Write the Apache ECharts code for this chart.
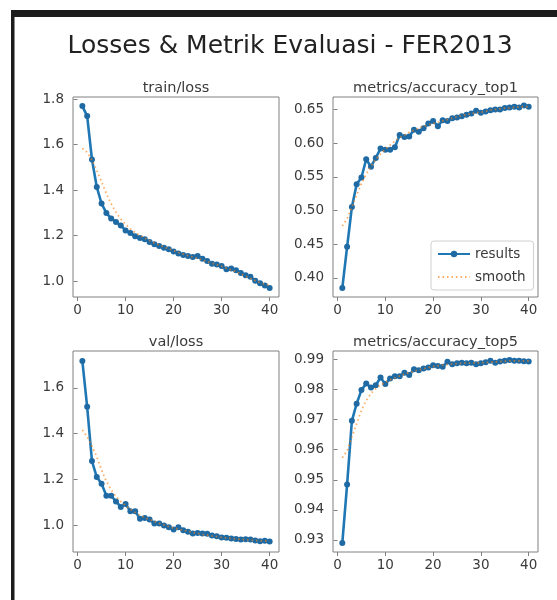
<!DOCTYPE html>
<html><head><meta charset="utf-8">
<script src="https://cdn.jsdelivr.net/npm/echarts@6/dist/echarts.min.js"></script>
<style>html,body{margin:0;padding:0;background:#fff}#c{width:557px;height:600px}</style>
</head><body><div id="c"></div>
<script>
const epochs = [1,2,3,4,5,6,7,8,9,10,11,12,13,14,15,16,17,18,19,20,21,22,23,24,25,26,27,28,29,30,31,32,33,34,35,36,37,38,39,40];
const trainLoss = [1.770,1.726,1.535,1.414,1.341,1.300,1.275,1.260,1.245,1.223,1.212,1.197,1.190,1.184,1.172,1.162,1.154,1.147,1.140,1.130,1.121,1.115,1.110,1.106,1.110,1.098,1.088,1.076,1.073,1.066,1.052,1.055,1.048,1.036,1.026,1.019,1.001,0.990,0.981,0.970];
const trainLossSmooth = [1.584,1.567,1.533,1.487,1.437,1.385,1.340,1.303,1.273,1.249,1.230,1.214,1.200,1.189,1.178,1.168,1.159,1.150,1.142,1.134,1.126,1.119,1.112,1.106,1.100,1.093,1.086,1.079,1.072,1.065,1.057,1.049,1.041,1.032,1.022,1.012,1.002,0.993,0.986,0.982];
const top1 = [0.385,0.446,0.505,0.539,0.549,0.576,0.565,0.578,0.592,0.590,0.590,0.594,0.612,0.609,0.610,0.620,0.617,0.622,0.629,0.633,0.625,0.634,0.633,0.637,0.638,0.640,0.642,0.644,0.648,0.645,0.647,0.649,0.650,0.650,0.652,0.653,0.654,0.653,0.656,0.654];
const top1Smooth = [0.477,0.488,0.505,0.523,0.540,0.554,0.566,0.576,0.584,0.591,0.597,0.603,0.608,0.612,0.616,0.619,0.622,0.625,0.627,0.629,0.631,0.633,0.635,0.637,0.639,0.641,0.642,0.644,0.645,0.646,0.647,0.649,0.650,0.651,0.652,0.652,0.653,0.654,0.654,0.654];
const valLoss = [1.716,1.517,1.281,1.211,1.182,1.130,1.130,1.105,1.081,1.094,1.062,1.062,1.030,1.033,1.026,1.009,1.009,1.000,0.993,0.983,0.993,0.980,0.973,0.965,0.968,0.965,0.964,0.957,0.954,0.948,0.947,0.944,0.942,0.939,0.941,0.939,0.935,0.932,0.934,0.931];
const valLossSmooth = [1.416,1.387,1.346,1.300,1.242,1.192,1.156,1.127,1.105,1.087,1.071,1.057,1.045,1.035,1.026,1.018,1.010,1.003,0.996,0.990,0.985,0.980,0.975,0.970,0.966,0.962,0.959,0.955,0.952,0.949,0.946,0.944,0.942,0.940,0.939,0.937,0.935,0.934,0.933,0.932];
const top5 = [0.9290,0.9484,0.9696,0.9753,0.9798,0.9820,0.9807,0.9814,0.9840,0.9818,0.9837,0.9844,0.9844,0.9856,0.9848,0.9867,0.9864,0.9870,0.9873,0.9881,0.9878,0.9876,0.9892,0.9884,0.9887,0.9889,0.9887,0.9889,0.9884,0.9887,0.9891,0.9896,0.9889,0.9893,0.9896,0.9898,0.9896,0.9896,0.9894,0.9893];
const top5Smooth = [0.9573,0.9596,0.9642,0.9687,0.9731,0.9764,0.9787,0.9803,0.9815,0.9824,0.9832,0.9839,0.9845,0.9851,0.9856,0.9861,0.9865,0.9869,0.9873,0.9876,0.9879,0.9881,0.9883,0.9885,0.9886,0.9887,0.9888,0.9888,0.9889,0.9889,0.9890,0.9891,0.9892,0.9893,0.9894,0.9895,0.9895,0.9895,0.9895,0.9895];
const xTicks = [0,10,20,30,40];
const trainLossTicks = [1.0,1.2,1.4,1.6,1.8];
const top1Ticks = [0.40,0.45,0.50,0.55,0.60,0.65];
const valLossTicks = [1.0,1.2,1.4,1.6];
const top5Ticks = [0.93,0.94,0.95,0.96,0.97,0.98,0.99];
const panelTitles = ['train/loss','metrics/accuracy_top1','val/loss','metrics/accuracy_top5'];
const mainTitle = 'Losses & Metrik Evaluasi - FER2013';
const seriesNames = ['results','smooth'];

const FONT = 'DejaVu Sans';
const TXT = '#3a3a3a';
const SPINE = '#808080';
const TICKFS = 13.5;
const grids = [
  {left:73, top:97, width:206, height:200},
  {left:333, top:97, width:205, height:200},
  {left:73, top:351, width:206, height:201},
  {left:333, top:351, width:205, height:201}
];
const panels = [
  {raw: trainLoss, sm: trainLossSmooth, ticks: trainLossTicks, min:0.93, max:1.81, dec:1},
  {raw: top1, sm: top1Smooth, ticks: top1Ticks, min:0.3715, max:0.6685, dec:2},
  {raw: valLoss, sm: valLossSmooth, ticks: valLossTicks, min:0.885, max:1.76, dec:1},
  {raw: top5, sm: top5Smooth, ticks: top5Ticks, min:0.926, max:0.9928, dec:2}
];
const pairs = arr => epochs.map((e,i)=>[e, arr[i]]);

const option = {
  animation:false,
  backgroundColor:'#fff',
  textStyle:{fontFamily:FONT},
  title: [{text: mainTitle, left: 290, top: 34, textAlign:'center', padding:0,
           textStyle:{fontFamily:FONT, fontSize:25, fontWeight:'normal', color:'#222'}}]
    .concat(panelTitles.map((t,i)=>({text:t, left: grids[i].left + grids[i].width/2, top: grids[i].top - 16, textAlign:'center', padding:0,
      textStyle:{fontFamily:FONT, fontSize:14.5, fontWeight:'normal', color:TXT}}))),
  grid: grids.map(g=>Object.assign({show:true, borderColor:SPINE, borderWidth:1, backgroundColor:'#fff', containLabel:false}, g)),
  xAxis: grids.map((g,i)=>({type:'value', gridIndex:i, min:-0.95, max:41.95,
    splitLine:{show:false}, axisLine:{show:false},
    axisTick:{show:true, length:4, customValues:xTicks, lineStyle:{color:SPINE}},
    axisLabel:{customValues:xTicks, margin:6, fontSize:TICKFS, color:TXT, fontFamily:FONT}})),
  yAxis: panels.map((p,i)=>({type:'value', gridIndex:i, min:p.min, max:p.max,
    splitLine:{show:false}, axisLine:{show:false},
    axisTick:{show:true, length:4, customValues:p.ticks, lineStyle:{color:SPINE}},
    axisLabel:{customValues:p.ticks, margin:9, fontSize:TICKFS, color:TXT, fontFamily:FONT,
      formatter: v => Number(v).toFixed(p.dec)}})),
  legend: {show:true, orient:'vertical', left:431, top:241,
    data: [{name:seriesNames[0]}, {name:seriesNames[1], itemStyle:{color:'rgba(0,0,0,0)', borderWidth:0, opacity:0}}],
    itemWidth:32, itemHeight:8, itemGap:9, padding:[6,8,6,6],
    backgroundColor:'rgba(255,255,255,0.85)', borderColor:'#d0d0d0', borderWidth:1, borderRadius:3,
    textStyle:{fontFamily:FONT, fontSize:TICKFS, color:TXT}},
  series: panels.flatMap((p,i)=>[
    {name:seriesNames[0], type:'line', xAxisIndex:i, yAxisIndex:i, data:pairs(p.raw),
     symbol:'circle', symbolSize:6, showSymbol:true, color:'#1f77b4',
     lineStyle:{width:2.6, color:'#1f77b4'}, itemStyle:{color:'#1f6aa3'}, z:2},
    {name:seriesNames[1], type:'line', xAxisIndex:i, yAxisIndex:i, data:pairs(p.sm),
     symbol:'none', showSymbol:false, color:'#ff7f0e',
     lineStyle:{width:1.8, color:'#ff7f0e', type:[1.5,3], opacity:0.65}, z:3}
  ]),
  graphic: [
    {type:'rect', shape:{x:11, y:10, width:546, height:7}, style:{fill:'#1c1c1c'}, silent:true},
    {type:'rect', shape:{x:11, y:10, width:3.5, height:590}, style:{fill:'#1c1c1c'}, silent:true}
  ]
};
const chart = echarts.init(document.getElementById('c'), null, {renderer:'canvas'});
chart.setOption(option);
</script></body></html>
